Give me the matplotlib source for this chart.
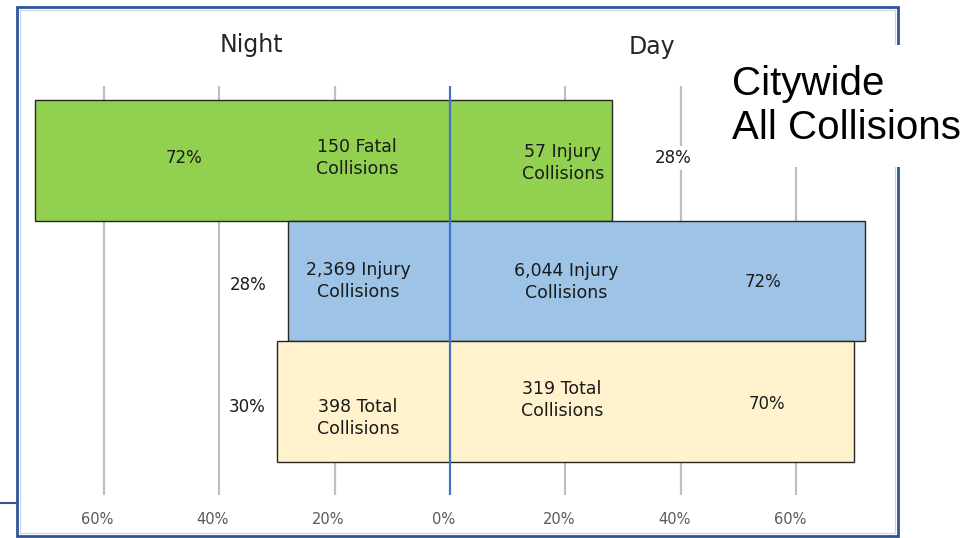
import matplotlib
matplotlib.use("Agg")
import matplotlib.pyplot as plt
from matplotlib.patches import Rectangle

# data
rows = [0, 1, 2]
night_pct = [72, 28, 30]
day_pct = [28, 72, 70]
night_text = ["150 Fatal\nCollisions", "2,369 Injury\nCollisions", "398 Total\nCollisions"]
day_text = ["57 Injury\nCollisions", "6,044 Injury\nCollisions", "319 Total\nCollisions"]
bar_colors = ["#92d050", "#9dc3e6", "#fff2cc"]
tick_vals = [-60, -40, -20, 0, 20, 40, 60]
tick_labels = ["60%", "40%", "20%", "0%", "20%", "40%", "60%"]

W, H = 970, 538
fig = plt.figure(figsize=(W / 100, H / 100), dpi=100)
fig.patch.set_facecolor("white")
ax = fig.add_axes([0, 0, 1, 1])
ax.patch.set_visible(False)

# pixel layout -> data coords
x0 = 450.0
px_per = 5.77
y0 = 160.5
row_px = 120.5
ax.set_xlim(-x0 / px_per, (W - x0) / px_per)
ax.set_ylim((H - y0) / row_px, -y0 / row_px)
ax.axis("off")


def py(p):
    return (p - y0) / row_px


def px(p):
    return (p - x0) / px_per


# grid lines
ax.vlines([t for t in tick_vals if t != 0], py(86), py(495), color="#bfbfbf", lw=1.6, zorder=1)
ax.vlines(0, py(86), py(495), color="#4472c4", lw=1.6, zorder=5)

# bars
nights = [-n for n in night_pct]
widths = [n + d for n, d in zip(night_pct, day_pct)]
ax.barh(rows, widths, left=nights, height=1.0, color=bar_colors,
        edgecolor="#262626", linewidth=1.0, zorder=2)

font = "DejaVu Sans"
tc = "#1a1a1a"

# percentage labels
pct_pos_night = [(184, 158), (248, 285), (247, 407)]
pct_pos_day = [(673, 158), (763, 282), (767, 404)]
for i in rows:
    ax.text(px(pct_pos_night[i][0]), py(pct_pos_night[i][1]), f"{night_pct[i]}%",
            ha="center", va="center", fontsize=12, color=tc, family=font, zorder=6)
    kw = {}
    if i == 0:
        kw["bbox"] = dict(facecolor="white", edgecolor="none", pad=2)
    ax.text(px(pct_pos_day[i][0]), py(pct_pos_day[i][1]), f"{day_pct[i]}%",
            ha="center", va="center", fontsize=12, color=tc, family=font, zorder=6, **kw)

# count labels
cnt_pos_night = [(357, 158), (358, 281), (358, 418)]
cnt_pos_day = [(563, 163), (566, 282), (562, 400)]
for i in rows:
    ax.text(px(cnt_pos_night[i][0]), py(cnt_pos_night[i][1]), night_text[i],
            ha="center", va="center", fontsize=12.5, color=tc, family=font,
            linespacing=1.35, zorder=6)
    ax.text(px(cnt_pos_day[i][0]), py(cnt_pos_day[i][1]), day_text[i],
            ha="center", va="center", fontsize=12.5, color=tc, family=font,
            linespacing=1.35, zorder=6)

# axis labels at bottom
for t, lab in zip(tick_vals, tick_labels):
    ax.text(t - 1.1, py(519), lab, ha="center", va="center", fontsize=10.5,
            color="#595959", family=font)

ax.text(px(251), py(45), "Night", ha="center", va="center", fontsize=17, color="#262626", family=font)
ax.text(px(652), py(47), "Day", ha="center", va="center", fontsize=17, color="#262626", family=font)

# frame
fig.patches.append(Rectangle((17 / W, 1 - 536 / H), (898 - 17) / W, (536 - 7) / H,
                             transform=fig.transFigure, fill=False,
                             edgecolor="#2f5597", lw=2.0, zorder=3))
fig.patches.append(Rectangle((20 / W, 1 - 533 / H), (895 - 20) / W, (533 - 10) / H,
                             transform=fig.transFigure, fill=False,
                             edgecolor="#c9d3e6", lw=0.8, zorder=3))
fig.lines.append(plt.Line2D([0, 17 / W], [1 - 503 / H, 1 - 503 / H],
                            transform=fig.transFigure, color="#2f5597", lw=1.5))

# title box
fig.patches.append(Rectangle((718 / W, 1 - 167 / H), (W - 718) / W, (167 - 45) / H,
                             transform=fig.transFigure, facecolor="white",
                             edgecolor="none", zorder=4))
fig.text(732 / W, 1 - 106 / H, "Citywide\nAll Collisions", ha="left", va="center",
         fontsize=29, family="Liberation Sans", color="black", zorder=5,
         linespacing=1.2)

fig.savefig("out.png", dpi=100)
